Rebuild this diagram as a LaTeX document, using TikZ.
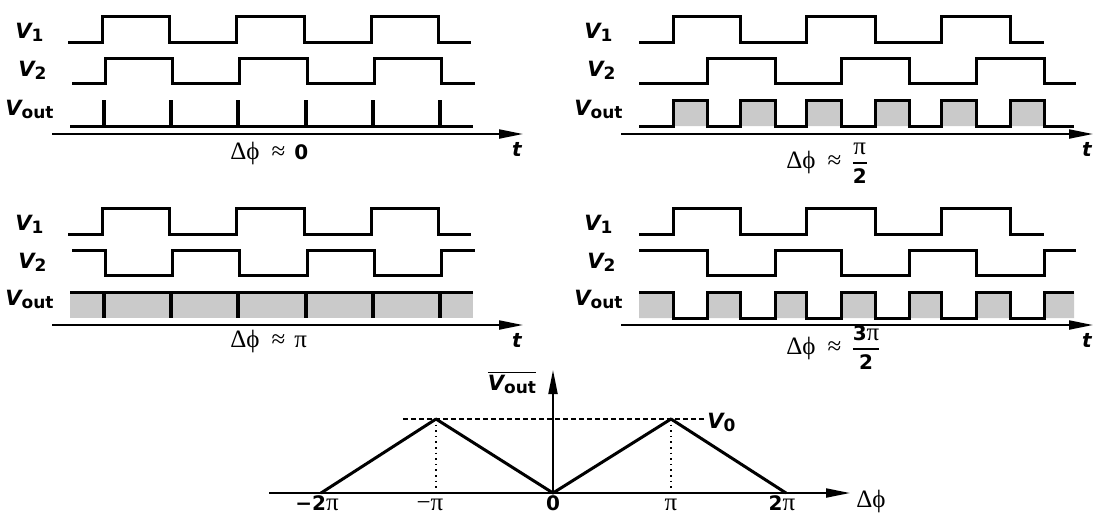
\documentclass[tikz,border=0pt]{standalone}
\usepackage{amsmath}
\usepackage{fontspec}
\usetikzlibrary{arrows.meta}
\newfontfamily\lblfont{DejaVu Sans}
\newfontfamily\srffont{Liberation Serif}
\definecolor{vgray}{RGB}{202,202,202}
\newcommand{\Vsym}[1]{{\lblfont\bfseries\itshape\fontsize{10.5}{11}\selectfont V}\raisebox{-1.8pt}{\lblfont\bfseries\fontsize{8.5}{9}\selectfont #1}}
\newcommand{\srf}[1]{{\srffont\fontsize{12.5}{13}\selectfont #1}}
\newcommand{\bsf}[1]{{\lblfont\bfseries\fontsize{10}{11}\selectfont #1}}
\newcommand{\frc}[2]{\ensuremath{\genfrac{}{}{0.8pt}{0}{\hbox{#1}}{\hbox{#2}}}}
\newcommand{\dapprox}{\srf{Δϕ}\hspace{6pt}\srf{≈}\hspace{4.5pt}}
\tikzset{
  wave/.style={line width=1.5pt, line join=miter, line cap=butt},
  spike/.style={line width=2pt},
  axisarrow/.style={line width=1pt, -{Triangle[length=12pt,width=4.5pt]}},
  lbl/.style={inner sep=0pt, anchor=base west},
  tlab/.style={inner sep=0pt, anchor=base, font=\lblfont\bfseries\itshape\fontsize{10}{11}\selectfont},
  captxt/.style={inner sep=0pt, anchor=base west},
}
\begin{document}
\begin{tikzpicture}[x=0.5pt,y=-0.5pt]
\useasboundingbox (0,0) rectangle (1117,516);
% ---------------- top-left: dphi ~ 0
\draw[wave] (68,42) -| (102,16) -| (169,42) -| (236,16) -| (304,42) -| (371,16) -| (438,42) -- (471,42);
\draw[wave] (72,83) -| (105,58) -| (172,83) -| (239,58) -| (307,83) -| (374,58) -| (441,83) -- (475,83);
\draw[wave] (70,126) -- (473,126);
\foreach \x in {104,171,238,306,373,440} \draw[spike] (\x,126) -- (\x,100);
\draw[axisarrow] (52,134) -- (523,134);
\node[lbl] (tlv1) at (15,38) {\Vsym{1}};
\node[lbl] (tlv2) at (18,76) {\Vsym{2}};
\node[lbl] (tlvo) at (5,115) {\Vsym{out}};
\node[tlab] (tlt) at (517,156) {t};
\node[captxt] (tlc) at (230,159) {\dapprox\bsf{0}};
% ---------------- top-right: dphi ~ pi/2
\draw[wave] (639,42) -| (673,16) -| (740,42) -| (806,16) -| (875,42) -| (941,16) -| (1010,42) -- (1044,42);
\draw[wave] (639,83) -| (707,58) -| (775,83) -| (841,58) -| (909,83) -| (976,58) -| (1044,83) -- (1076,83);
\fill[vgray] (639,126) -| (673,100) -| (707,126) -| (740,100) -| (775,126) -| (806,100) -| (841,126) -| (875,100) -| (909,126) -| (941,100) -| (976,126) -| (1010,100) -| (1044,126) -- cycle;
\draw[wave] (639,126) -| (673,100) -| (707,126) -| (740,100) -| (775,126) -| (806,100) -| (841,126) -| (875,100) -| (909,126) -| (941,100) -| (976,126) -| (1010,100) -| (1044,126) -- (1074,126);
\draw[axisarrow] (621,134) -- (1093,134);
\node[lbl] (trv1) at (584,38) {\Vsym{1}};
\node[lbl] (trv2) at (587,76) {\Vsym{2}};
\node[lbl] (trvo) at (574,115) {\Vsym{out}};
\node[tlab] (trt) at (1087,156) {t};
\node[captxt] (trc) at (786,168) {\dapprox\frc{\srf{π}}{\bsf{2}}};
% ---------------- bottom-left: dphi ~ pi
\draw[wave] (68,234) -| (102,208) -| (169,234) -| (236,208) -| (304,234) -| (371,208) -| (438,234) -- (471,234);
\draw[wave] (72,250) -| (105,275) -| (172,250) -| (239,275) -| (307,250) -| (374,275) -| (441,250) -- (475,250);
\fill[vgray] (70,292) rectangle (473,318);
\draw[wave] (70,292) -- (473,292);
\foreach \x in {104,171,238,306,373,440} \draw[spike] (\x,292) -- (\x,318);
\draw[axisarrow] (52,325) -- (523,325);
\node[lbl] (blv1) at (15,230) {\Vsym{1}};
\node[lbl] (blv2) at (18,268) {\Vsym{2}};
\node[lbl] (blvo) at (5,305) {\Vsym{out}};
\node[tlab] (blt) at (517,347) {t};
\node[captxt] (blc) at (230,347) {\dapprox\srf{π}};
% ---------------- bottom-right: dphi ~ 3pi/2
\draw[wave] (639,234) -| (673,208) -| (740,234) -| (806,208) -| (875,234) -| (941,208) -| (1010,234) -- (1044,234);
\draw[wave] (639,250) -| (707,275) -| (775,250) -| (841,275) -| (909,250) -| (976,275) -| (1044,250) -- (1076,250);
\fill[vgray] (639,292) -| (673,318) -| (707,292) -| (740,318) -| (775,292) -| (806,318) -| (841,292) -| (875,318) -| (909,292) -| (941,318) -| (976,292) -| (1010,318) -| (1044,292) -- (1074,292) -- (1074,318) -- (639,318) -- cycle;
\draw[wave] (639,292) -| (673,318) -| (707,292) -| (740,318) -| (775,292) -| (806,318) -| (841,292) -| (875,318) -| (909,292) -| (941,318) -| (976,292) -| (1010,318) -| (1044,292) -- (1074,292);
\draw[axisarrow] (621,325) -- (1093,325);
\node[lbl] (brv1) at (584,230) {\Vsym{1}};
\node[lbl] (brv2) at (587,268) {\Vsym{2}};
\node[lbl] (brvo) at (574,305) {\Vsym{out}};
\node[tlab] (brt) at (1087,347) {t};
\node[captxt] (brc) at (786,354) {\dapprox\frc{\bsf{3}\srf{π}}{\bsf{2}}};
% ---------------- bottom graph
\draw[axisarrow] (269,493) -- (850,493);
\draw[axisarrow] (553,493) -- (553,370);
\draw[dash pattern=on 2.5pt off 1.5pt, line width=0.6pt] (403,419) -- (704,419);
\draw[dotted, line width=0.8pt] (436,419) -- (436,493);
\draw[dotted, line width=0.8pt] (671,419) -- (671,493);
\draw[wave, line join=round] (321,493) -- (436,419) -- (553,493) -- (671,419) -- (786,493);
\node[inner sep=0pt, anchor=base] (vbar) at (512,390) {\ensuremath{\overline{\hbox{\Vsym{out}}}}};
\node[lbl] (v0) at (707,428) {\Vsym{0}};
\node[inner sep=0pt, anchor=base] (xm2) at (317,510) {\bsf{−2}\srf{π}};
\node[inner sep=0pt, anchor=base] (xm1) at (430,510) {\srf{−π}};
\node[inner sep=0pt, anchor=base] (x0) at (553,510) {\bsf{0}};
\node[inner sep=0pt, anchor=base] (x1) at (671,510) {\srf{π}};
\node[inner sep=0pt, anchor=base] (x2) at (782,510) {\bsf{2}\srf{π}};
\node[lbl] (dphi) at (856,507) {\srf{Δϕ}};
\end{tikzpicture}
\end{document}
